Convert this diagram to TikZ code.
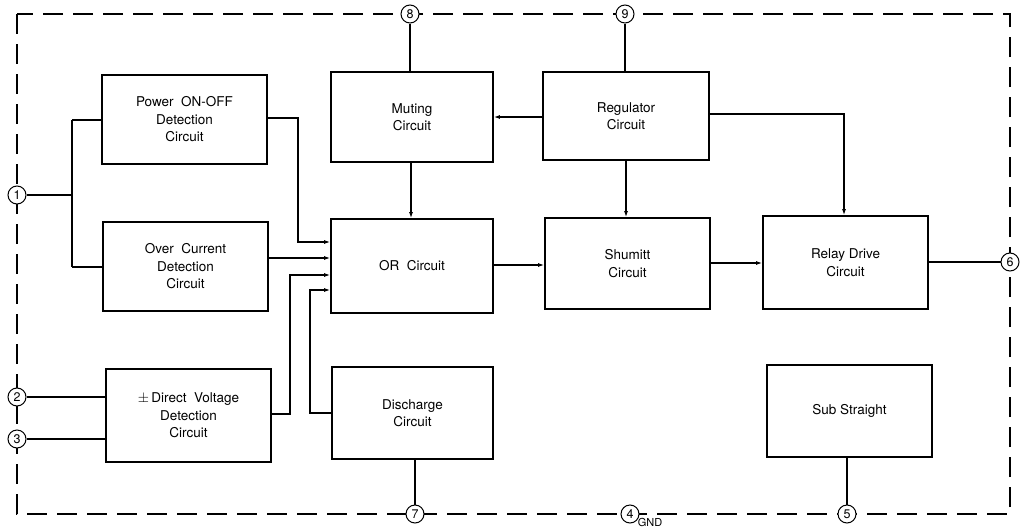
\documentclass[tikz,border=0pt]{standalone}
\usepackage{fontspec}
\setmainfont{TeX Gyre Heros}
\usetikzlibrary{arrows.meta}
\begin{document}
\begin{tikzpicture}[x=1pt,y=-1pt,
  blk/.style={draw,line width=1.8pt,inner sep=0pt,align=center,font=\fontsize{13.5}{17.5}\selectfont},
  pin/.style={draw,circle,line width=1pt,fill=white,minimum size=18pt,inner sep=0pt,font=\fontsize{12.5}{12.5}\selectfont},
  wire/.style={line width=1.1pt},
  arr/.style={wire,-{Latex[length=6pt,width=4pt]}}]
\useasboundingbox (0,0) rectangle (1025,530);
\fill[white] (0,0) rectangle (1025,530);
% border
\draw[line width=1.8pt,dash pattern=on 20pt off 10pt] (17,14) rectangle (1010,514);
% blocks
\newcommand{\blkat}[6]{\node[blk,minimum width=#4-#2,minimum height=#5-#3] (#1) at ({(#2+#4)/2},{(#3+#5)/2}) {#6};}
\blkat{pow}{102}{75}{267}{164}{Power\ \ ON-OFF\\Detection\\Circuit}
\blkat{ovc}{103}{222}{268}{311}{Over\ \ Current\\Detection\\Circuit}
\blkat{dvd}{106}{369}{271}{462}{$\pm$\,Direct\ \ Voltage\\Detection\\Circuit}
\blkat{mut}{331}{72}{493}{162}{Muting\\Circuit}
\blkat{reg}{543}{72}{709}{160}{Regulator\\Circuit}
\blkat{orc}{331}{219}{493}{313}{OR\ \ Circuit}
\blkat{shm}{545}{218}{710}{309}{Shumitt\\Circuit}
\blkat{rly}{763}{216}{928}{309}{Relay\ Drive\\Circuit}
\blkat{dis}{332}{367}{493}{459}{Discharge\\Circuit}
\node[blk,line width=2.4pt,minimum width=165pt,minimum height=92pt] (sub) at (849.5,411) {Sub Straight};
% pins
\node[pin] (p1) at (17,195) {1};
\node[pin] (p2) at (17,397) {2};
\node[pin] (p3) at (17,439) {3};
\node[pin] (p8) at (410,14) {8};
\node[pin] (p9) at (625,14) {9};
\node[pin] (p6) at (1010,262) {6};
\node[pin] (p7) at (415,514) {7};
\node[pin] (p4) at (630,514) {4};
\node[pin] (p5) at (847,514) {5};
\node[font=\fontsize{11}{11}\selectfont,anchor=west,inner sep=1pt] (gnd) at ([yshift=-2pt]p4.south east) {GND};
% coordinates
\coordinate (j1) at (72,195);
% connections
\draw[wire] (p1) -- (j1);
\draw[wire] (72,120) -- (72,267);
\draw[wire] (72,120) -- (pow.west |- 0,120);
\draw[wire] (72,267) -- (ovc.west |- 0,267);
\draw[arr] (pow.east |- 0,118) -- (298,118) -- (298,242) -- (orc.west |- 0,242);
\draw[arr] (ovc.east |- 0,258) -- (orc.west |- 0,258);
\draw[arr] (dvd.east |- 0,414) -- (290,414) -- (290,275) -- (orc.west |- 0,275);
\draw[arr] (dis.west |- 0,413) -- (310,413) -- (310,290) -- (orc.west |- 0,290);
\draw[arr] (mut.south -| 411,0) -- (orc.north -| 411,0);
\draw[arr] (reg.west |- 0,117) -- (mut.east |- 0,117);
\draw[arr] (reg.south -| 626,0) -- (shm.north -| 626,0);
\draw[arr] (reg.east |- 0,114) -- (844,114) -- (rly.north -| 844,0);
\draw[arr] (orc.east |- 0,265) -- (shm.west |- 0,265);
\draw[arr] (shm.east |- 0,263) -- (rly.west |- 0,263);
\draw[wire] (rly.east |- p6) -- (p6);
\draw[wire] (p8) -- (mut.north -| p8);
\draw[wire] (p9) -- (reg.north -| p9);
\draw[wire] (dis.south -| p7) -- (p7);
\draw[wire] (sub.south -| p5) -- (p5);
\draw[wire] (p2) -- (dvd.west |- p2);
\draw[wire] (p3) -- (dvd.west |- p3);
\end{tikzpicture}
\end{document}
